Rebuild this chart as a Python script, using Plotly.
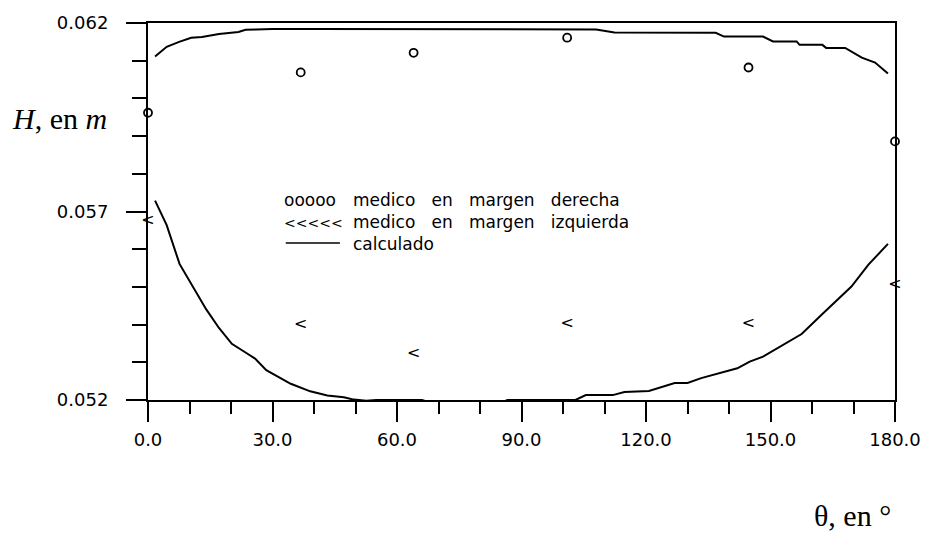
import plotly.graph_objects as go

# Angular positions of the measuring sections (degrees)
theta_med = [0.0, 36.8, 64.0, 101.0, 144.7, 180.0]
# Measured depth on the right bank (m)
h_derecha = [0.05962, 0.06069, 0.06121, 0.06161, 0.06082, 0.05886]
# Measured depth on the left bank (m)
h_izquierda = [0.05676, 0.05399, 0.05323, 0.05401, 0.05402, 0.05504]

# Computed profile, right bank
theta_calc_der = [1.7, 4.5, 7.5, 10.4, 13.0, 17.1, 21.8, 23.5, 26.0, 30.0, 40.0,
                  60.0, 80.0, 100.0, 108.0, 112.4, 125.0, 136.8, 138.8, 148.2,
                  150.6, 156.3, 157.0, 162.5, 163.4, 168.0, 172.0, 175.2, 178.3]
h_calc_der = [0.06111, 0.06137, 0.06150, 0.06161, 0.06163, 0.06171, 0.06176,
              0.06182, 0.06183, 0.06184, 0.06184, 0.06184, 0.06184, 0.06184,
              0.06183, 0.06175, 0.06174, 0.06174, 0.06164, 0.06164, 0.06151,
              0.06151, 0.06142, 0.06142, 0.06134, 0.06134, 0.06108, 0.06095,
              0.06066]

# Computed profile, left bank
theta_calc_izq = [1.7, 4.5, 7.6, 10.7, 14.0, 17.1, 20.2, 23.5, 25.8, 28.5, 31.3,
                  34.4, 39.1, 43.2, 47.2, 49.6, 52.6, 55.0, 66.0, 68.5, 85.0,
                  86.6, 103.0, 105.5, 112.0, 114.8, 120.7, 126.9, 130.0, 133.3,
                  142.0, 145.0, 148.2, 157.5, 162.5, 169.5, 173.6, 178.3]
h_calc_izq = [0.05729, 0.05664, 0.05561, 0.05501, 0.05441, 0.05391, 0.05349,
              0.05326, 0.05310, 0.05279, 0.05262, 0.05243, 0.05223, 0.05212,
              0.05207, 0.05201, 0.05198, 0.05200, 0.05200, 0.05192, 0.05192,
              0.05200, 0.05200, 0.05213, 0.05213, 0.05221, 0.05224, 0.05245,
              0.05245, 0.05258, 0.05284, 0.05302, 0.05315, 0.05375, 0.05428,
              0.05501, 0.05559, 0.05614]

legend_rows = ["medico en margen derecha", "medico en margen izquierda", "calculado"]
legend_symbols = ["ooooo",
                  "<span style='font-size:14px'>&lt;&lt;&lt;&lt;&lt;</span>",
                  "\u00a0"]

fig = go.Figure()

line_style = dict(color="black", width=2)
fig.add_trace(go.Scatter(x=theta_calc_der, y=h_calc_der, mode="lines",
                         line=line_style, name=legend_rows[2], showlegend=False))
fig.add_trace(go.Scatter(x=theta_calc_izq, y=h_calc_izq, mode="lines",
                         line=line_style, name=legend_rows[2], showlegend=False))
fig.add_trace(go.Scatter(x=theta_med, y=h_derecha, mode="markers",
                         marker=dict(symbol="circle-open", size=8, color="black",
                                     line=dict(width=1.8, color="black")),
                         cliponaxis=False, name=legend_rows[0], showlegend=False))
fig.add_trace(go.Scatter(x=theta_med, y=h_izquierda, mode="text",
                         text=["<"] * len(theta_med), textposition="middle center",
                         textfont=dict(family="DejaVu Sans", size=16, color="black"),
                         cliponaxis=False, name=legend_rows[1], showlegend=False))

axis_common = dict(showline=True, linecolor="black", linewidth=2, mirror=True,
                   ticks="outside", tickcolor="black", tickwidth=2,
                   showgrid=False, zeroline=False,
                   tickfont=dict(family="DejaVu Sans", size=18, color="black"))

fig.update_xaxes(range=[0, 180], tick0=0, dtick=30, tickformat=".1f", ticklen=20,
                 ticklabelstandoff=2,
                 minor=dict(dtick=10, ticks="outside", ticklen=12,
                            tickcolor="black", tickwidth=2),
                 **axis_common)
fig.update_yaxes(range=[0.052, 0.062], tick0=0.052, dtick=0.005, tickformat=".3f",
                 ticklen=20, ticklabelstandoff=14,
                 minor=dict(dtick=0.001, ticks="outside", ticklen=14,
                            tickcolor="black", tickwidth=2),
                 **axis_common)

# Legend block: one column of symbols, one column of labels
leg_size = 17
gap = "\u00a0\u00a0\u00a0"
sym_x = (284 - 148) / 759
txt_x = (354 - 148) / 759
block_y = (400 - 220) / 382
row3_y = (400 - 241) / 382

annotations = [
    dict(x=sym_x, y=block_y, text="<br>".join(legend_symbols),
         font=dict(family="DejaVu Sans", size=leg_size, color="black")),
    dict(x=txt_x, y=block_y, text="<br>".join(r.replace(" ", gap) for r in legend_rows),
         font=dict(family="DejaVu Sans", size=leg_size, color="black")),
]
annotations = [dict(a, xref="paper", yref="paper", xanchor="left", yanchor="middle",
                    align="left", showarrow=False) for a in annotations]

# Axis titles
annotations.append(dict(x=(108 - 148) / 759, y=(400 - 115) / 382, xref="paper", yref="paper",
                        xanchor="right", yanchor="middle", showarrow=False,
                        text="<i>H</i>, en <i>m</i>",
                        font=dict(family="Liberation Serif", size=30, color="black")))
annotations.append(dict(x=(864 - 148) / 759, y=(400 - 517) / 382, xref="paper", yref="paper",
                        xanchor="center", yanchor="middle", showarrow=False,
                        text="θ, en °",
                        font=dict(family="Liberation Serif", size=30, color="black")))

fig.update_layout(
    width=933, height=535, autosize=False,
    margin=dict(l=148, r=26, t=18, b=135),
    paper_bgcolor="white", plot_bgcolor="white",
    showlegend=False,
    annotations=annotations,
    shapes=[dict(type="line", xref="paper", yref="paper",
                 x0=(288 - 148) / 759, x1=(343 - 148) / 759,
                 y0=row3_y, y1=row3_y,
                 line=dict(color="black", width=1.5))],
)

fig.write_html("out.html")
